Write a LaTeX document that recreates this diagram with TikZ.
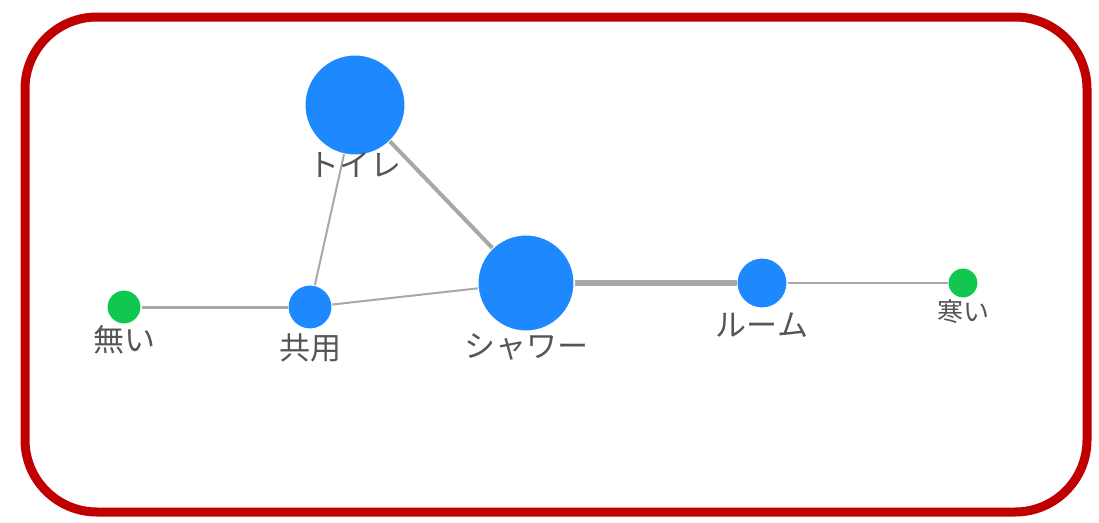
\documentclass[tikz,border=0pt]{standalone}
\usepackage{fontspec}
\newfontfamily\jpfont{Noto Sans CJK JP}
\usepackage{tikz}
\usetikzlibrary{positioning}
\definecolor{framered}{HTML}{C00000}
\definecolor{nodeblue}{HTML}{1E88FF}
\definecolor{nodegreen}{HTML}{10C850}
\definecolor{edgegray}{HTML}{A8A8A8}
\definecolor{labelgray}{HTML}{555555}
\tikzset{
  word/.style={circle, inner sep=0pt, draw=white, line width=1pt},
  blueword/.style={word, fill=nodeblue},
  greenword/.style={word, fill=nodegreen},
  wlabel/.style={text=labelgray, font=\jpfont\fontsize{31}{33}\selectfont, inner sep=0pt},
  link/.style={draw=edgegray}
}

\begin{document}
\begin{tikzpicture}[x=1pt, y=-1pt]

  \useasboundingbox (0,0) rectangle (1099,522);

  % frame
  \draw[framered, line width=9pt, rounded corners=72pt] (25,17) rectangle (1087,512);

  % words
  \node[blueword, minimum size=100pt] (toilet) at (355,105) {};
  \node[blueword, minimum size=44pt] (kyoyo) at (310,307) {};
  \node[greenword, minimum size=34pt] (nai) at (124,307) {};
  \node[blueword, minimum size=96pt] (shower) at (526,283) {};
  \node[blueword, minimum size=50pt] (room) at (762,283) {};
  \node[greenword, minimum size=30pt] (samui) at (963,283) {};

  % links
  \path[link, line width=4pt] (toilet) -- (shower);
  \path[link, line width=2pt] (toilet) -- (kyoyo);
  \path[link, line width=3pt] (nai) -- (kyoyo);
  \path[link, line width=2pt] (kyoyo) -- (shower);
  \path[link, line width=6pt] (shower) -- (room);
  \path[link, line width=2pt] (room) -- (samui);

  % labels
  \node[wlabel] (toiletl) at (355,165) {トイレ};
  \node[wlabel] (kyoyol) at (310,348) {共用};
  \node[wlabel] (nail) at (124,340) {無い};
  \node[wlabel] (showerl) at (526,347) {シャワー};
  \node[wlabel] (rooml) at (762,325) {ルーム};
  \node[wlabel, font=\jpfont\fontsize{26}{28}\selectfont] (samuil) at (963,312) {寒い};

\end{tikzpicture}
\end{document}
